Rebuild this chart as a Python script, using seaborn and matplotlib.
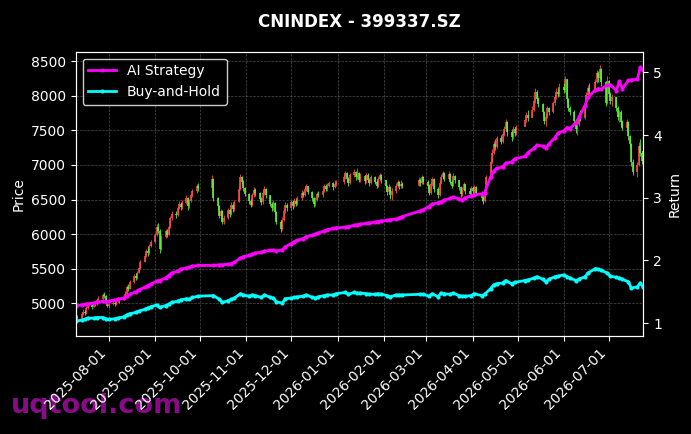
import matplotlib
matplotlib.use("Agg")
import matplotlib.pyplot as plt
import matplotlib.dates as mdates
import seaborn as sns
import numpy as np
import pandas as pd

# --- Config ---
TITLE = "CNINDEX - 399337.SZ"
COLOR_UP = "#ff4b4b"     # red = up (CN convention)
COLOR_DOWN = "#5cf03a"   # green = down
COLOR_AI = "#ff00ff"
COLOR_BH = "#00ffff"
COLOR_GRID = "#7f7f7f"
COLOR_MARK = "#8a0a8a"

START, END = "2025-07-10", "2026-07-24"
HOLIDAYS = ["2025-10-01", "2025-10-02", "2025-10-03", "2025-10-06", "2025-10-07", "2025-10-08",
            "2026-01-01", "2026-01-02",
            "2026-02-16", "2026-02-17", "2026-02-18", "2026-02-19", "2026-02-20", "2026-02-23",
            "2026-04-06", "2026-05-01", "2026-05-04", "2026-05-05", "2026-06-19"]

# --- Daily candles (open = previous close) ---
OPEN_FIRST = 4760
CLOSE = [
    # Jul 2025
    4800, 4785, 4850, 4880, 4860, 4930, 4975, 4950, 5000, 4985, 5040, 5065, 5120, 5105, 5030, 4960,
    # Aug
    4990, 5010, 4985, 5030, 5060, 5045, 5090, 5140, 5230, 5210, 5300, 5390, 5360, 5440, 5510, 5600,
    5690, 5760, 5720, 5830, 5880,
    # Sep
    5990, 6110, 6050, 5790, 5960, 6040, 5990, 6100, 6230, 6290, 6270, 6380, 6440, 6390, 6450, 6520,
    6400, 6480, 6560, 6620, 6690, 6670,
    # Oct
    6800, 6520, 6400, 6260, 6330, 6180, 6240, 6350, 6290, 6420, 6360, 6470, 6650, 6820, 6760, 6660, 6580,
    # Nov
    6480, 6420, 6560, 6640, 6590, 6510, 6460, 6600, 6650, 6560, 6440, 6380, 6450, 6320, 6180, 6080,
    6210, 6330, 6420, 6380,
    # Dec
    6460, 6410, 6480, 6440, 6520, 6600, 6570, 6650, 6690, 6610, 6520, 6430, 6500, 6580, 6560, 6630,
    6690, 6650, 6700, 6740, 6680, 6720, 6760,
    # Jan 2026
    6830, 6880, 6800, 6740, 6850, 6900, 6820, 6880, 6790, 6840, 6770, 6850, 6790, 6740, 6820, 6760,
    6700, 6800, 6850, 6780,
    # Feb
    6690, 6610, 6680, 6560, 6620, 6700, 6760, 6690, 6730, 6700, 6780, 6740, 6820, 6760,
    # Mar
    6690, 6600, 6720, 6800, 6650, 6560, 6740, 6830, 6880, 6800, 6870, 6760, 6700, 6840, 6780, 6680,
    6580, 6640, 6720, 6620, 6580, 6660,
    # Apr
    6620, 6680, 6600, 6520, 6480, 6630, 6820, 7050, 7180, 7300, 7260, 7390, 7330, 7450, 7520, 7620,
    7480, 7400, 7520, 7460, 7550,
    # May
    7650, 7720, 7680, 7800, 7920, 8050, 7960, 7880, 7760, 7640, 7700, 7820, 7760, 7890, 7980, 8060,
    8020, 8130,
    # Jun
    8080, 8240, 7950, 7820, 7760, 7640, 7520, 7600, 7720, 7680, 7850, 8010, 8120, 8070, 8200, 8330,
    8260, 8390, 8200, 7900, 8210,
    # Jul
    8020, 7930, 7980, 7820, 7700, 7760, 7620, 7540, 7620, 7420, 7300, 7050, 6900, 7000, 7280, 7180,
    7060, 7200,
]
HIGH = [
    4830, 4835, 4880, 4920, 4905, 4960, 5010, 4995, 5030, 5025, 5070, 5100, 5150, 5160, 5115, 5040,
    5010, 5040, 5030, 5055, 5090, 5080, 5120, 5170, 5260, 5280, 5330, 5420, 5430, 5470, 5530, 5630,
    5720, 5790, 5810, 5860, 5910,
    6020, 6150, 6160, 6070, 5990, 6080, 6070, 6130, 6260, 6330, 6340, 6410, 6480, 6470, 6490, 6560,
    6530, 6510, 6600, 6650, 6730, 6740,
    6850, 6810, 6530, 6420, 6370, 6350, 6280, 6380, 6370, 6460, 6440, 6500, 6690, 6870, 6840, 6780, 6680,
    6600, 6510, 6600, 6680, 6670, 6610, 6540, 6640, 6700, 6670, 6570, 6470, 6490, 6460, 6330, 6200,
    6250, 6370, 6460, 6450,
    6500, 6490, 6520, 6510, 6550, 6640, 6630, 6690, 6720, 6700, 6620, 6540, 6530, 6610, 6620, 6670,
    6720, 6730, 6740, 6770, 6760, 6780, 6790,
    6870, 6920, 6900, 6820, 6880, 6940, 6920, 6950, 6900, 6880, 6860, 6890, 6880, 6810, 6860, 6840,
    6790, 6840, 6880, 6870,
    6790, 6710, 6720, 6700, 6660, 6740, 6790, 6770, 6780, 6760, 6820, 6810, 6850, 6840,
    6790, 6720, 6760, 6830, 6810, 6680, 6780, 6870, 6920, 6900, 6910, 6890, 6790, 6880, 6860, 6790,
    6700, 6680, 6750, 6730, 6660, 6700,
    6690, 6710, 6690, 6620, 6560, 6660, 6860, 7100, 7230, 7350, 7380, 7420, 7440, 7480, 7560, 7670,
    7640, 7500, 7560, 7550, 7580,
    7690, 7760, 7790, 7850, 7960, 8120, 8080, 7980, 7890, 7780, 7740, 7860, 7840, 7930, 8020, 8110,
    8120, 8180,
    8180, 8290, 8250, 7970, 7850, 7800, 7660, 7640, 7760, 7800, 7900, 8050, 8160, 8190, 8250, 8380,
    8360, 8440, 8410, 8220, 8290,
    8230, 8050, 8020, 7990, 7850, 7800, 7790, 7650, 7670, 7640, 7440, 7320, 7080, 7040, 7330, 7380,
    7200, 7260,
]
LOW = [
    4745, 4760, 4770, 4835, 4830, 4850, 4920, 4915, 4940, 4955, 4975, 5020, 5050, 5080, 5010, 4940,
    4930, 4970, 4960, 4975, 5020, 5010, 5040, 5080, 5130, 5180, 5200, 5290, 5330, 5350, 5430, 5500,
    5590, 5670, 5690, 5710, 5810,
    5870, 5970, 6010, 5730, 5770, 5940, 5960, 5980, 6090, 6210, 6240, 6260, 6360, 6350, 6370, 6430,
    6350, 6380, 6460, 6540, 6600, 6630,
    6660, 6480, 6370, 6230, 6200, 6150, 6140, 6220, 6250, 6280, 6320, 6340, 6460, 6640, 6720, 6630, 6550,
    6440, 6390, 6400, 6530, 6550, 6470, 6420, 6440, 6570, 6520, 6400, 6340, 6350, 6290, 6140, 6030,
    6060, 6190, 6300, 6340,
    6350, 6370, 6390, 6400, 6420, 6500, 6530, 6550, 6620, 6580, 6480, 6390, 6410, 6480, 6530, 6540,
    6610, 6620, 6630, 6680, 6640, 6660, 6700,
    6730, 6800, 6770, 6700, 6720, 6820, 6780, 6800, 6750, 6760, 6730, 6740, 6760, 6700, 6720, 6730,
    6660, 6680, 6770, 6740,
    6650, 6570, 6590, 6510, 6500, 6600, 6680, 6650, 6670, 6660, 6690, 6700, 6720, 6730,
    6650, 6560, 6580, 6700, 6610, 6520, 6550, 6720, 6800, 6770, 6780, 6720, 6670, 6690, 6740, 6640,
    6530, 6550, 6620, 6580, 6540, 6560,
    6580, 6590, 6560, 6480, 6440, 6470, 6620, 6800, 7030, 7160, 7220, 7250, 7300, 7320, 7420, 7500,
    7420, 7350, 7380, 7420, 7430,
    7560, 7620, 7640, 7690, 7780, 7900, 7920, 7840, 7720, 7590, 7570, 7680, 7720, 7750, 7870, 7960,
    7990, 8000,
    8040, 8060, 7900, 7780, 7720, 7590, 7460, 7430, 7570, 7640, 7660, 7840, 7990, 8030, 8050, 8180,
    8200, 8240, 8150, 7860, 7880,
    7980, 7880, 7850, 7780, 7650, 7620, 7560, 7500, 7490, 7360, 7250, 6990, 6850, 6820, 6980, 7130,
    7010, 7040,
]

# --- Cumulative return, read every second trading day ---
AI_RET = [
    1.28, 1.29, 1.30, 1.31, 1.32, 1.33, 1.35, 1.34,
    1.35, 1.37, 1.38, 1.40, 1.43, 1.46, 1.50, 1.53, 1.57, 1.60, 1.62,
    1.67, 1.68, 1.72, 1.76, 1.80, 1.83, 1.86, 1.88, 1.89, 1.91, 1.92,
    1.92, 1.93, 1.93, 1.94, 1.95, 1.97, 2.04, 2.06,
    2.08, 2.10, 2.12, 2.13, 2.15, 2.16, 2.16, 2.15, 2.17, 2.22,
    2.27, 2.30, 2.32, 2.35, 2.38, 2.40, 2.42, 2.44, 2.47, 2.49, 2.51, 2.52,
    2.53, 2.54, 2.56, 2.57, 2.58, 2.59, 2.60, 2.61, 2.62, 2.63,
    2.64, 2.65, 2.66, 2.68, 2.70, 2.79, 2.81,
    2.86, 2.90, 2.92, 2.94, 2.96, 2.99, 3.01, 2.98, 2.96, 3.00, 3.03,
    3.05, 3.06, 3.08, 3.33, 3.42, 3.47, 3.49, 3.55, 3.57, 3.62,
    3.66, 3.72, 3.79, 3.84, 3.82, 3.79, 3.86, 3.96, 4.03,
    4.07, 4.12, 4.10, 4.20, 4.28, 4.47, 4.60, 4.72, 4.74, 4.73, 4.80,
    4.80, 4.71, 4.86, 4.74, 4.87, 4.88, 4.89, 5.08, 5.03,
]
BH_RET = [
    1.03, 1.05, 1.06, 1.08, 1.08, 1.09, 1.09, 1.07,
    1.06, 1.07, 1.08, 1.10, 1.13, 1.15, 1.17, 1.19, 1.22, 1.24, 1.26,
    1.29, 1.25, 1.28, 1.30, 1.33, 1.35, 1.37, 1.39, 1.38, 1.41, 1.43,
    1.44, 1.38, 1.33, 1.36, 1.38, 1.40, 1.47, 1.45,
    1.43, 1.45, 1.44, 1.41, 1.45, 1.41, 1.40, 1.34, 1.32, 1.39,
    1.40, 1.41, 1.42, 1.43, 1.45, 1.41, 1.40, 1.42, 1.44, 1.45, 1.45, 1.47,
    1.49, 1.46, 1.49, 1.48, 1.48, 1.47, 1.46, 1.46, 1.47, 1.46,
    1.44, 1.42, 1.45, 1.45, 1.45, 1.46, 1.46,
    1.43, 1.47, 1.42, 1.48, 1.47, 1.46, 1.48, 1.44, 1.43, 1.43, 1.44,
    1.47, 1.44, 1.46, 1.55, 1.61, 1.63, 1.64, 1.68, 1.63, 1.65,
    1.68, 1.69, 1.72, 1.74, 1.70, 1.66, 1.70, 1.74, 1.75,
    1.77, 1.74, 1.72, 1.68, 1.70, 1.74, 1.80, 1.87, 1.86, 1.84, 1.80,
    1.75, 1.73, 1.72, 1.70, 1.66, 1.56, 1.58, 1.64, 1.57,
]


def trading_days():
    days = pd.bdate_range(START, END)
    return days[~days.isin(pd.to_datetime(HOLIDAYS))]


def draw_candles(ax, days):
    opens = [OPEN_FIRST] + CLOSE[:-1]
    px = pd.DataFrame({"date": days, "open": opens, "high": HIGH, "low": LOW, "close": CLOSE})
    px["up"] = px["close"] >= px["open"]
    for is_up, col in [(True, COLOR_UP), (False, COLOR_DOWN)]:
        sub = px[px["up"] == is_up]
        ax.vlines(sub["date"], sub["low"], sub["high"], color=col, lw=0.6)
        ax.vlines(sub["date"], sub[["open", "close"]].min(axis=1),
                  sub[["open", "close"]].max(axis=1), color=col, lw=1.2)


def main():
    plt.style.use("dark_background")
    days = trading_days()
    assert len(days) == len(CLOSE) == len(HIGH) == len(LOW), (len(days), len(CLOSE), len(HIGH), len(LOW))
    line_days = days[::2]
    assert len(line_days) == len(AI_RET) == len(BH_RET), (len(line_days), len(AI_RET), len(BH_RET))

    fig, ax = plt.subplots(figsize=(6.91, 4.34), dpi=100)
    fig.subplots_adjust(left=0.1095, right=0.931, top=0.881, bottom=0.2265)

    draw_candles(ax, days)
    ax.set_ylim(4530, 8640)
    ax.set_ylabel("Price")
    ax.grid(True, color=COLOR_GRID, ls="--", lw=0.5, alpha=0.6)

    ax2 = ax.twinx()
    sns.lineplot(x=line_days, y=AI_RET, ax=ax2, color=COLOR_AI, lw=2.0, marker="o",
                 markersize=3, markeredgewidth=0, label="AI Strategy")
    sns.lineplot(x=line_days, y=BH_RET, ax=ax2, color=COLOR_BH, lw=2.0, marker="o",
                 markersize=3, markeredgewidth=0, label="Buy-and-Hold")
    ax2.set_ylim(0.80, 5.33)
    ax2.set_ylabel("Return")
    ax2.grid(False)
    ax2.legend(loc="upper left", facecolor="black", edgecolor="white", fontsize=10)

    ax.set_xlim(days[0], days[-1])
    ax.xaxis.set_major_locator(mdates.MonthLocator())
    ax.xaxis.set_major_formatter(mdates.DateFormatter("%Y-%m-%d"))
    plt.setp(ax.get_xticklabels(), rotation=45, ha="right")
    ax.set_xlabel("")

    ax.set_title(TITLE, fontsize=12, fontweight="bold", pad=18)
    fig.text(0.016, 0.048, "uqtool.com", fontsize=19.5, fontweight="bold",
             color=COLOR_MARK, zorder=-1)

    fig.savefig("out.png", dpi=100, facecolor="black")
    plt.close(fig)


if __name__ == "__main__":
    main()
